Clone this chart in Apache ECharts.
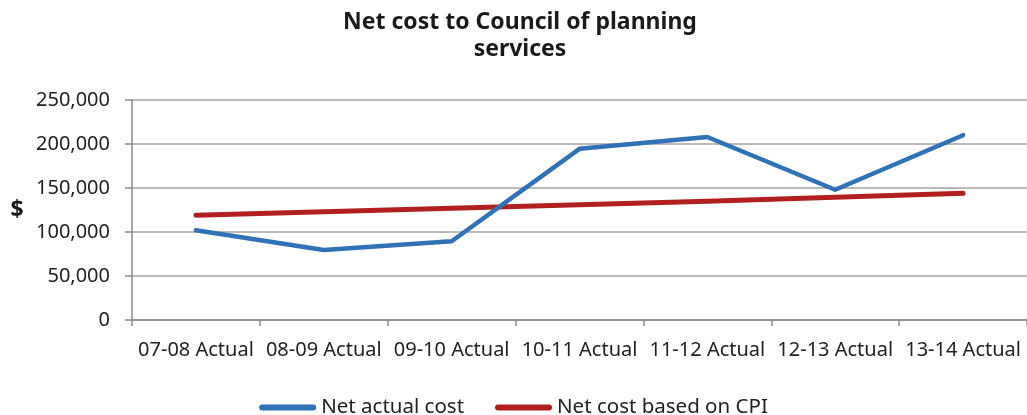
<!DOCTYPE html>
<html>
<head>
<meta charset="utf-8">
<script src="https://cdn.jsdelivr.net/npm/echarts@6/dist/echarts.min.js"></script>
<style>
  html, body { margin: 0; padding: 0; background: #ffffff; }
  #chart { width: 1027px; height: 415px; }
</style>
</head>
<body>
<div id="chart"></div>
<script>
// Financial years shown on the category axis
const years = ['07-08 Actual', '08-09 Actual', '09-10 Actual', '10-11 Actual',
               '11-12 Actual', '12-13 Actual', '13-14 Actual'];
// Net actual cost of planning services ($)
const netActualCost = [102000, 79500, 89500, 194500, 208000, 148000, 210000];
// Net cost indexed by CPI ($)
const netCostCpi = [119000, 123000, 127000, 131000, 135000, 139500, 144000];
// Value axis ticks
const yTicks = [0, 50000, 100000, 150000, 200000, 250000];

const seriesNames = ['Net actual cost', 'Net cost based on CPI'];
const seriesColors = ['#2f72b7', '#b1201f'];
const FONT = '"Noto Sans", sans-serif';

const chart = echarts.init(document.getElementById('chart'), null, { renderer: 'canvas' });

chart.setOption({
  backgroundColor: '#ffffff',
  animation: false,
  title: {
    text: 'Net cost to Council of planning\nservices',
    left: 515,
    top: 4,
    textAlign: 'center',
    textStyle: {
      fontFamily: FONT,
      fontWeight: 'bold',
      fontSize: 23,
      lineHeight: 27,
      color: '#1a1a1a'
    }
  },
  legend: {
    data: seriesNames,
    left: 'center',
    top: 392,
    icon: 'path://M3,0 L54,0 A3,3 0 0 1 54,6 L3,6 A3,3 0 0 1 3,0 Z',
    itemWidth: 57,
    itemHeight: 6,
    itemGap: 31,
    textStyle: {
      fontFamily: FONT,
      fontSize: 20.5,
      color: '#222222',
      padding: [0, 0, 0, 0]
    }
  },
  grid: {
    left: 132,
    right: 0,
    top: 100,
    bottom: 95,
    containLabel: false
  },
  xAxis: {
    type: 'category',
    data: years,
    boundaryGap: true,
    axisLine: { show: true, lineStyle: { color: '#8a8a8a', width: 1.5 } },
    axisTick: { show: true, alignWithLabel: false, length: 6, lineStyle: { color: '#8a8a8a', width: 1.5 } },
    axisLabel: {
      fontFamily: FONT,
      fontSize: 20,
      color: '#222222',
      margin: 20,
      interval: 0
    },
    splitLine: { show: false }
  },
  yAxis: {
    type: 'value',
    min: yTicks[0],
    max: yTicks[yTicks.length - 1],
    interval: yTicks[1] - yTicks[0],
    name: '$',
    nameLocation: 'middle',
    nameRotate: 0,
    nameGap: 115,
    nameTextStyle: {
      fontFamily: FONT,
      fontWeight: 'bold',
      fontSize: 23,
      color: '#1a1a1a',
      align: 'center',
      verticalAlign: 'middle',
      padding: [0, 0, 8, 0]
    },
    axisLine: { show: true, lineStyle: { color: '#8a8a8a', width: 1.5 } },
    axisTick: { show: true, inside: false, length: 7, lineStyle: { color: '#8a8a8a', width: 1.5 } },
    axisLabel: {
      fontFamily: FONT,
      fontSize: 20,
      color: '#222222',
      margin: 22,
      formatter: v => v.toLocaleString('en-US')
    },
    splitLine: { show: true, lineStyle: { color: '#a3a3a3', width: 1.5 } }
  },
  series: [
    {
      name: seriesNames[0],
      type: 'line',
      data: netActualCost,
      symbol: 'none',
      z: 4,
      lineStyle: { color: seriesColors[0], width: 4.5, cap: 'round', join: 'round' },
      itemStyle: { color: seriesColors[0] }
    },
    {
      name: seriesNames[1],
      type: 'line',
      data: netCostCpi,
      symbol: 'none',
      z: 3,
      lineStyle: { color: seriesColors[1], width: 5, cap: 'round', join: 'round' },
      itemStyle: { color: seriesColors[1] }
    }
  ]
});
</script>
</body>
</html>
